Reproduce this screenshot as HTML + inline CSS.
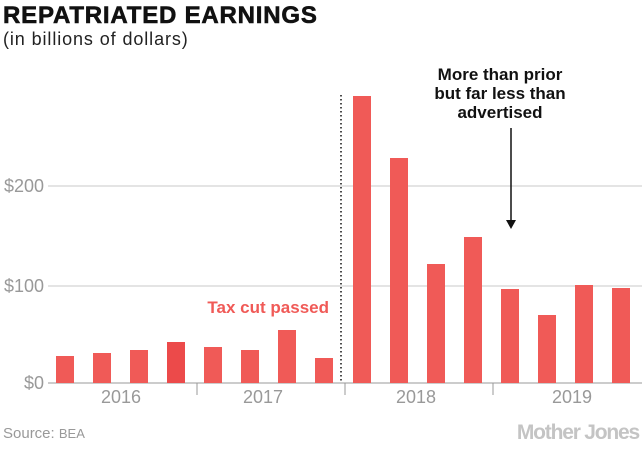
<!DOCTYPE html>
<html><head><style>
body{margin:0;background:#fff;}
</style></head><body>
<svg width="642" height="459" xmlns="http://www.w3.org/2000/svg" style="display:block;font-family:'Liberation Sans',sans-serif">
<text x="3" y="23" font-size="24" font-weight="900" fill="#111" letter-spacing="0.8" stroke="#111" stroke-width="0.6">REPATRIATED EARNINGS</text>
<text x="3" y="45" font-size="18" fill="#222" letter-spacing="0.9">(in billions of dollars)</text>
<g stroke="#c8c8c8" stroke-width="1">
<line x1="48" y1="186" x2="642" y2="186"/>
<line x1="48" y1="286" x2="642" y2="286"/>
<line x1="48" y1="383" x2="642" y2="383" stroke="#999"/>
<line x1="197" y1="383" x2="197" y2="395" stroke="#999"/>
<line x1="345" y1="383" x2="345" y2="395" stroke="#999"/>
<line x1="493" y1="383" x2="493" y2="395" stroke="#999"/>
</g>
<g font-size="18" fill="#999">
<text x="44" y="192" text-anchor="end">$200</text>
<text x="44" y="292" text-anchor="end">$100</text>
<text x="44" y="389" text-anchor="end">$0</text>
<text x="121" y="403" text-anchor="middle">2016</text>
<text x="263" y="403" text-anchor="middle">2017</text>
<text x="416" y="403" text-anchor="middle">2018</text>
<text x="572" y="403" text-anchor="middle">2019</text>
</g>
<g fill="#f05a57">
<rect x="56" y="356" width="18" height="27"/>
<rect x="93" y="353" width="18" height="30"/>
<rect x="130" y="350" width="18" height="33"/>
<rect x="167" y="342" width="18" height="41" fill="#ec4a4a"/>
<rect x="204" y="347" width="18" height="36"/>
<rect x="241" y="350" width="18" height="33"/>
<rect x="278" y="330" width="18" height="53"/>
<rect x="315" y="358" width="18" height="25"/>
<rect x="353" y="96" width="18" height="287"/>
<rect x="390" y="158" width="18" height="225"/>
<rect x="427" y="264" width="18" height="119"/>
<rect x="464" y="237" width="18" height="146"/>
<rect x="501" y="289" width="18" height="94"/>
<rect x="538" y="315" width="18" height="68"/>
<rect x="575" y="285" width="18" height="98"/>
<rect x="612" y="288" width="18" height="95"/>
</g>
<line x1="341" y1="95" x2="341" y2="383" stroke="#111" stroke-width="1.5" stroke-dasharray="1.5,2.5"/>
<text x="329" y="313" font-size="17" font-weight="bold" fill="#f05a57" text-anchor="end">Tax cut passed</text>
<g font-size="17" font-weight="bold" fill="#111" text-anchor="middle">
<text x="500" y="80">More than prior</text>
<text x="500" y="99">but far less than</text>
<text x="500" y="118">advertised</text>
</g>
<line x1="511" y1="128" x2="511" y2="222" stroke="#111" stroke-width="1.5"/>
<polygon points="506,220 516,220 511,229" fill="#111"/>
<text x="3" y="438" font-size="15" fill="#999">Source: <tspan font-size="13">BEA</tspan></text>
<text x="639" y="439" font-size="21" font-weight="bold" fill="#c4c4c4" text-anchor="end" letter-spacing="-1.2">Mother Jones</text>
</svg>
</body></html>
